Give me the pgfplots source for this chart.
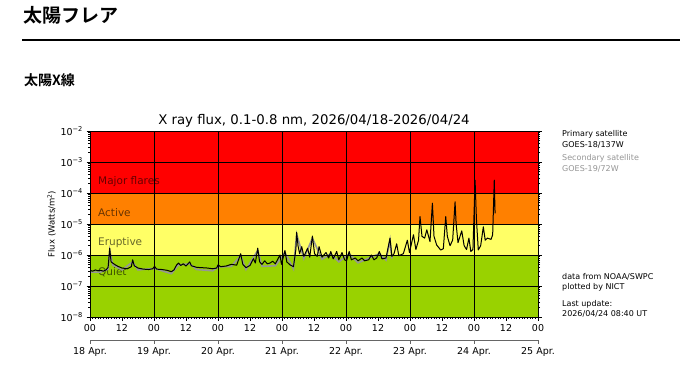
\documentclass[border=0pt]{standalone}
\usepackage{pgfplots}
\pgfplotsset{compat=1.18}
\usepackage{fontspec}
\setmainfont{DejaVu Sans}
\newfontfamily\cjk{Noto Sans CJK JP}[BoldFont={Noto Sans CJK JP Bold}]
\definecolor{flR}{RGB}{255,0,0}
\definecolor{flO}{RGB}{255,128,0}
\definecolor{flY}{RGB}{255,255,102}
\definecolor{flG}{RGB}{153,210,0}
\definecolor{secgray}{RGB}{150,150,150}
\begin{document}
\begin{tikzpicture}
\path[use as bounding box] (0pt,0pt) rectangle (680pt,373pt);
\fill[white] (0pt,0pt) rectangle (680pt,373pt);
\node[anchor=west, inner sep=0] at (23pt,358pt) {\cjk\bfseries\fontsize{19}{19}\selectfont 太陽フレア};
\draw[line width=1.5pt] (22pt,333pt) -- (680pt,333pt);
\node[anchor=west, inner sep=0] at (24pt,293pt) {\cjk\bfseries\fontsize{14}{14}\selectfont 太陽X線};
\node[inner sep=0] at (314pt,252pt) {\fontsize{13.3}{13.3}\selectfont X ray flux, 0.1-0.8 nm, 2026/04/18-2026/04/24};
\begin{axis}[
  at={(90pt,56pt)}, anchor=south west, scale only axis,
  width=448pt, height=186pt,
  xmin=0, xmax=168, ymin=1e-8, ymax=1e-2,
  ymode=log, log basis y=10,
  axis on top,
  axis line style={black, line width=0.8pt},
  tick align=outside, xtick pos=bottom, ytick pos=both,
  major tick length=3.5pt, minor tick length=2pt,
  tick style={black, line width=0.6pt},
  xtick={0,12,...,168},
  xticklabels={00,12,00,12,00,12,00,12,00,12,00,12,00,12,00},
  minor x tick num=11,
  extra x ticks={24,48,72,96,120,144},
  extra x tick labels={},
  extra x tick style={grid=major, major tick length=0pt},
  ytick={1e-8,1e-7,1e-6,1e-5,1e-4,1e-3,1e-2},
  yticklabels={10\textsuperscript{−8},10\textsuperscript{−7},10\textsuperscript{−6},10\textsuperscript{−5},10\textsuperscript{−4},10\textsuperscript{−3},10\textsuperscript{−2}},
  minor ytick={2e-8,3e-8,4e-8,5e-8,6e-8,7e-8,8e-8,9e-8,
    2e-7,3e-7,4e-7,5e-7,6e-7,7e-7,8e-7,9e-7,
    2e-6,3e-6,4e-6,5e-6,6e-6,7e-6,8e-6,9e-6,
    2e-5,3e-5,4e-5,5e-5,6e-5,7e-5,8e-5,9e-5,
    2e-4,3e-4,4e-4,5e-4,6e-4,7e-4,8e-4,9e-4,
    2e-3,3e-3,4e-3,5e-3,6e-3,7e-3,8e-3,9e-3},
  ymajorgrids=true,
  major grid style={black, line width=0.6pt},
  ticklabel style={font=\fontsize{9.5}{10}\selectfont},
  /pgf/number format/assume math mode=true,
  ylabel={Flux (Watts/m\textsuperscript{2})},
  ylabel style={font=\fontsize{8.5}{9}\selectfont, yshift=-2pt},
  clip=true,
]
\addplot[fill=flR, draw=none] coordinates {(0,1e-4) (168,1e-4) (168,1e-2) (0,1e-2)} -- cycle;
\addplot[fill=flO, draw=none] coordinates {(0,1e-5) (168,1e-5) (168,1e-4) (0,1e-4)} -- cycle;
\addplot[fill=flY, draw=none] coordinates {(0,1e-6) (168,1e-6) (168,1e-5) (0,1e-5)} -- cycle;
\addplot[fill=flG, draw=none] coordinates {(0,1e-8) (168,1e-8) (168,1e-6) (0,1e-6)} -- cycle;
\node[anchor=west, inner sep=0, text opacity=0.6, font=\fontsize{10.5}{11}\selectfont] at (axis cs:3,2.4e-4) {Major flares};
\node[anchor=west, inner sep=0, text opacity=0.6, font=\fontsize{10.5}{11}\selectfont] at (axis cs:3,2.4e-5) {Active};
\node[anchor=west, inner sep=0, text opacity=0.6, font=\fontsize{10.5}{11}\selectfont] at (axis cs:3,2.6e-6) {Eruptive};
\node[anchor=west, inner sep=0, text opacity=0.6, font=\fontsize{10.5}{11}\selectfont] at (axis cs:3,2.8e-7) {Quiet};
% secondary satellite
\addplot[secgray, line width=1.6pt] coordinates {
(0,2.8e-7)(4,2.8e-7)(6.8,3.5e-7)(7.4,1.4e-6)(8.5,4.8e-7)(12,3.3e-7)(16,6e-7)(18,3.3e-7)
(24.2,3.7e-7)(30.5,2.5e-7)(33.2,4.8e-7)(37.4,5.2e-7)(40,3.4e-7)(46,3.1e-7)(48,4.1e-7)
(53,4.3e-7)(56.5,9.5e-7)(58.5,3.4e-7)(62.9,1.4e-6)(64.5,4.3e-7)(69.5,4.5e-7)(73.1,1.2e-6)
(76.3,3.6e-7)(77.5,4.6e-6)(80.2,7.7e-7)(83.4,3.5e-6)(87,7.3e-7)(90.3,1.1e-6)(93.3,6e-7)
(97.2,1.1e-6)(100.5,5.6e-7)(105.5,8.6e-7)(108.5,1.1e-6)(111,6.9e-7)(112.5,3e-6)(113.2,7.7e-7)};
% primary satellite
\addplot[black, line width=1.0pt, line join=round] coordinates {
(0,3.2e-7)(1,3.0e-7)(2,3.3e-7)(3,3.1e-7)(4,3.2e-7)(5,3.0e-7)(6,3.3e-7)(6.8,4e-7)
(7.4,1.65e-6)(7.9,6e-7)(8.5,5.5e-7)(9.5,4.8e-7)(10.5,4.3e-7)(12,3.8e-7)(14,3.6e-7)
(15.5,4.2e-7)(16,7.0e-7)(16.6,4.5e-7)(18,3.8e-7)(20,3.5e-7)(22,3.4e-7)(23.5,3.6e-7)
(24.2,4.3e-7)(25,3.5e-7)(27,3.4e-7)(29,3.2e-7)(30.5,2.9e-7)(31.5,3.3e-7)(32.5,4.8e-7)
(33.2,5.5e-7)(34,4.6e-7)(35,5.2e-7)(36,4.4e-7)(37.4,6.0e-7)(38,4.5e-7)(40,4.0e-7)
(42,3.9e-7)(44,3.8e-7)(46,3.6e-7)(47.5,3.8e-7)(48,4.8e-7)(49,4.2e-7)(51,4.4e-7)
(53,5e-7)(55,4.7e-7)(56.5,1.1e-6)(57.3,5e-7)(58.5,3.9e-7)(60,4.6e-7)(61.3,7.6e-7)
(62,5.5e-7)(62.9,1.66e-6)(63.6,6e-7)(64.5,5.0e-7)(65.5,6.5e-7)(66.5,5.2e-7)(67.5,5.5e-7)
(68.5,6.3e-7)(69.5,5.2e-7)(71.25,1.0e-6)(71.8,5.0e-7)(73.1,1.4e-6)(73.8,6e-7)(75,4.8e-7)
(76.3,4.2e-7)(77.2,1.5e-6)(77.5,5.4e-6)(78,2.0e-6)(78.6,1.1e-6)(79.4,1.86e-6)(80.2,9e-7)
(81.6,1.66e-6)(82.4,8.5e-7)(83.4,4.1e-6)(84.2,1.1e-6)(85.2,9e-7)(85.9,1.86e-6)(87,8.5e-7)
(88.5,1.2e-6)(89.5,8e-7)(90.3,1.3e-6)(91.2,7.5e-7)(92.5,1.3e-6)(93.3,7e-7)(94.5,1.2e-6)
(95.5,7e-7)(96.2,6.5e-7)(97.2,1.3e-6)(98,7e-7)(99.5,8e-7)(100.5,6.5e-7)(102,8e-7)
(103,6.5e-7)(104.5,7e-7)(105.5,1.0e-6)(106.5,7e-7)(107.5,8e-7)(108.5,1.3e-6)(109.5,7.5e-7)
(111,8e-7)(112.5,3.5e-6)(113.2,9e-7)(114,1.1e-6)(115,2.3e-6)(115.8,9.5e-7)(117.5,1.1e-6)
(119,3.0e-6)(119.8,1.2e-6)(121.3,4.5e-6)(122.2,1.5e-6)(123.2,3e-6)(123.75,1.74e-5)
(124.5,4e-6)(125.5,3.5e-6)(126.3,6.5e-6)(127,3.9e-6)(127.5,2.7e-6)(128.4,4.7e-5)
(129,4e-6)(130,2.1e-6)(131.5,1.45e-6)(132.5,1.6e-6)(133.4,1.74e-5)(134,4e-6)(135,2e-6)
(136,3e-6)(136.9,5.2e-5)(137.3,1e-5)(138,2.5e-6)(139.4,6.0e-6)(140.3,2e-6)(141.2,1.5e-6)
(142.1,3.5e-6)(142.8,1.3e-6)(143.6,1.5e-6)(144.4,2.6e-4)(144.9,1.5e-5)(145.6,1.45e-6)
(146.5,2e-6)(147.5,8.1e-6)(148.2,3e-6)(149,3.5e-6)(150.4,3.2e-6)(151,4.5e-6)
(151.6,2.6e-4)(151.9,2.2e-5)};
\node[anchor=west, inner sep=0, font=\fontsize{11}{11}\selectfont] at (axis description cs:1,0.75) [xshift=3.5pt] {X};
\node[anchor=west, inner sep=0, font=\fontsize{11}{11}\selectfont] at (axis description cs:1,0.5833) [xshift=3.5pt] {M};
\node[anchor=west, inner sep=0, font=\fontsize{11}{11}\selectfont] at (axis description cs:1,0.4167) [xshift=3.5pt] {C};
\node[anchor=west, inner sep=0, font=\fontsize{11}{11}\selectfont] at (axis description cs:1,0.25) [xshift=3.5pt] {B};
\node[anchor=west, inner sep=0, font=\fontsize{11}{11}\selectfont] at (axis description cs:1,0.0833) [xshift=3.5pt] {A};
\end{axis}
\begin{axis}[
  at={(90pt,33pt)}, anchor=south west, scale only axis,
  width=448pt, height=1pt,
  xmin=0, xmax=168, ymin=0, ymax=1,
  axis x line*=bottom, hide y axis,
  axis line style={black!60, line width=0.7pt},
  tick align=outside, major tick length=3.5pt,
  tick style={black!60, line width=0.6pt},
  xtick={0,24,...,168},
  xticklabels={18 Apr.,19 Apr.,20 Apr.,21 Apr.,22 Apr.,23 Apr.,24 Apr.,25 Apr.},
  ticklabel style={font=\fontsize{9.5}{10}\selectfont},
]
\addplot[draw=none] coordinates {(0,0)(168,0)};
\end{axis}
\begin{scope}[font=\fontsize{8}{8}\selectfont]
\node[anchor=west, inner sep=0] at (562pt,239pt) {Primary satellite};
\node[anchor=west, inner sep=0] at (562pt,228pt) {GOES-18/137W};
\node[anchor=west, inner sep=0, text=secgray] at (562pt,215pt) {Secondary satellite};
\node[anchor=west, inner sep=0, text=secgray] at (562pt,204pt) {GOES-19/72W};
\node[anchor=west, inner sep=0] at (562pt,96pt) {data from NOAA/SWPC};
\node[anchor=west, inner sep=0] at (562pt,86pt) {plotted by NICT};
\node[anchor=west, inner sep=0] at (562pt,69pt) {Last update:};
\node[anchor=west, inner sep=0] at (562pt,59pt) {2026/04/24 08:40 UT};
\end{scope}
\end{tikzpicture}
\end{document}
